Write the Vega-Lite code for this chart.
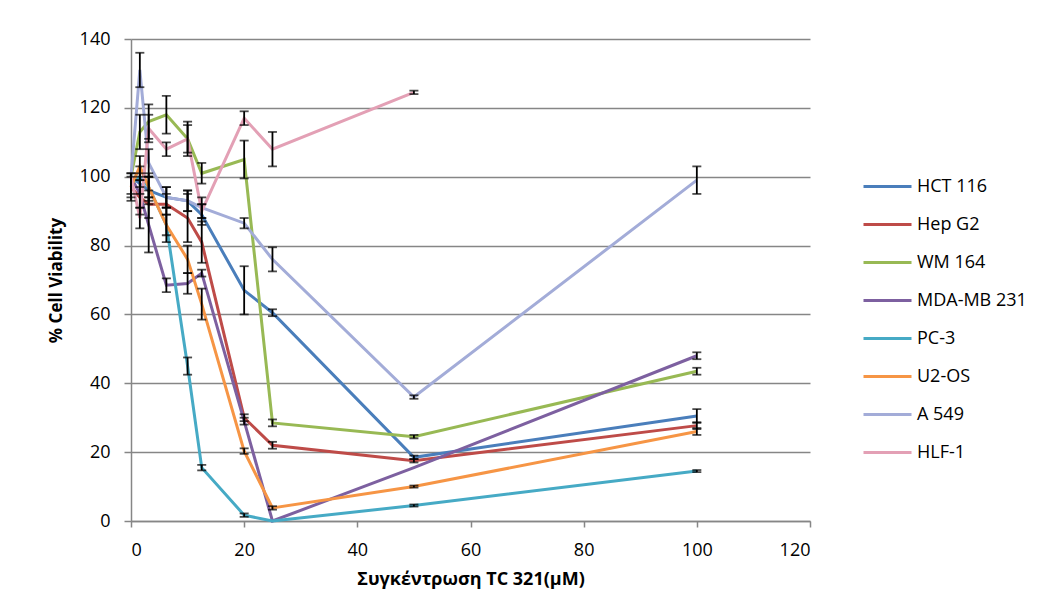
{
  "$schema": "https://vega.github.io/schema/vega-lite/v6.json",
  "autosize": {"type": "none"},
  "padding": {"left": 131, "top": 39, "right": 244, "bottom": 92},
  "width": 679,
  "height": 482,
  "background": "white",
  "config": {
    "font": "Open Sans",
    "view": {"stroke": null},
    "axis": {"labelFont": "Open Sans", "titleFont": "Open Sans", "labelColor": "#000", "titleColor": "#000", "domainColor": "#868686", "tickColor": "#868686", "gridColor": "#868686", "domainWidth": 1.5, "tickWidth": 1.5, "gridWidth": 1.3}
  },
  "data": {"values": [
    {"c": 0, "s": "HCT 116", "v": 100, "e": 0},
    {"c": 1.5625, "s": "HCT 116", "v": 98, "e": 3},
    {"c": 3.125, "s": "HCT 116", "v": 96, "e": 4},
    {"c": 6.25, "s": "HCT 116", "v": 94, "e": 3},
    {"c": 10, "s": "HCT 116", "v": 93, "e": 3},
    {"c": 12.5, "s": "HCT 116", "v": 89, "e": 3},
    {"c": 20, "s": "HCT 116", "v": 67, "e": 7},
    {"c": 25, "s": "HCT 116", "v": 60.5, "e": 1},
    {"c": 50, "s": "HCT 116", "v": 18.5, "e": 0.5},
    {"c": 100, "s": "HCT 116", "v": 30.5, "e": 2},
    {"c": 0, "s": "Hep G2", "v": 97, "e": 4},
    {"c": 1.5625, "s": "Hep G2", "v": 94, "e": 5},
    {"c": 3.125, "s": "Hep G2", "v": 92, "e": 4},
    {"c": 6.25, "s": "Hep G2", "v": 92, "e": 3},
    {"c": 10, "s": "Hep G2", "v": 88, "e": 7},
    {"c": 12.5, "s": "Hep G2", "v": 81, "e": 6},
    {"c": 20, "s": "Hep G2", "v": 30, "e": 1},
    {"c": 25, "s": "Hep G2", "v": 22, "e": 1},
    {"c": 50, "s": "Hep G2", "v": 17.5, "e": 0.5},
    {"c": 100, "s": "Hep G2", "v": 27.7, "e": 1},
    {"c": 0, "s": "WM 164", "v": 100, "e": 0},
    {"c": 1.5625, "s": "WM 164", "v": 113, "e": 5},
    {"c": 3.125, "s": "WM 164", "v": 116, "e": 5},
    {"c": 6.25, "s": "WM 164", "v": 118, "e": 5.5},
    {"c": 10, "s": "WM 164", "v": 111, "e": 5},
    {"c": 12.5, "s": "WM 164", "v": 101, "e": 3},
    {"c": 20, "s": "WM 164", "v": 105, "e": 5.5},
    {"c": 25, "s": "WM 164", "v": 28.5, "e": 1},
    {"c": 50, "s": "WM 164", "v": 24.5, "e": 0.5},
    {"c": 100, "s": "WM 164", "v": 43.5, "e": 1},
    {"c": 0, "s": "MDA-MB 231", "v": 100, "e": 0},
    {"c": 1.5625, "s": "MDA-MB 231", "v": 95, "e": 4},
    {"c": 3.125, "s": "MDA-MB 231", "v": 86, "e": 8},
    {"c": 6.25, "s": "MDA-MB 231", "v": 68.5, "e": 2},
    {"c": 10, "s": "MDA-MB 231", "v": 69, "e": 3},
    {"c": 12.5, "s": "MDA-MB 231", "v": 72, "e": 1},
    {"c": 20, "s": "MDA-MB 231", "v": 29, "e": 1},
    {"c": 25, "s": "MDA-MB 231", "v": 0, "e": 0},
    {"c": 50, "s": "MDA-MB 231", "v": 15.5, "e": 0},
    {"c": 100, "s": "MDA-MB 231", "v": 48, "e": 1},
    {"c": 0, "s": "PC-3", "v": 98, "e": 3},
    {"c": 1.5625, "s": "PC-3", "v": 100, "e": 3},
    {"c": 3.125, "s": "PC-3", "v": 97, "e": 4},
    {"c": 6.25, "s": "PC-3", "v": 86, "e": 5},
    {"c": 10, "s": "PC-3", "v": 45, "e": 2.5},
    {"c": 12.5, "s": "PC-3", "v": 15.5, "e": 0.8},
    {"c": 20, "s": "PC-3", "v": 1.7, "e": 0.5},
    {"c": 25, "s": "PC-3", "v": 0, "e": 0},
    {"c": 50, "s": "PC-3", "v": 4.5, "e": 0.3},
    {"c": 100, "s": "PC-3", "v": 14.5, "e": 0.3},
    {"c": 0, "s": "U2-OS", "v": 97, "e": 3},
    {"c": 1.5625, "s": "U2-OS", "v": 103, "e": 3},
    {"c": 3.125, "s": "U2-OS", "v": 97, "e": 3},
    {"c": 6.25, "s": "U2-OS", "v": 86, "e": 3},
    {"c": 10, "s": "U2-OS", "v": 76, "e": 4},
    {"c": 12.5, "s": "U2-OS", "v": 63, "e": 4.5},
    {"c": 20, "s": "U2-OS", "v": 20.3, "e": 0.8},
    {"c": 25, "s": "U2-OS", "v": 3.8, "e": 0.5},
    {"c": 50, "s": "U2-OS", "v": 10, "e": 0.3},
    {"c": 100, "s": "U2-OS", "v": 26, "e": 1},
    {"c": 0, "s": "A 549", "v": 100, "e": 0},
    {"c": 1.5625, "s": "A 549", "v": 131, "e": 5},
    {"c": 3.125, "s": "A 549", "v": 104, "e": 4},
    {"c": 6.25, "s": "A 549", "v": 94, "e": 3},
    {"c": 10, "s": "A 549", "v": 93, "e": 3},
    {"c": 12.5, "s": "A 549", "v": 91, "e": 3},
    {"c": 20, "s": "A 549", "v": 86.5, "e": 1.5},
    {"c": 25, "s": "A 549", "v": 76, "e": 3.5},
    {"c": 50, "s": "A 549", "v": 36, "e": 0.5},
    {"c": 100, "s": "A 549", "v": 99, "e": 4},
    {"c": 0, "s": "HLF-1", "v": 100, "e": 0},
    {"c": 1.5625, "s": "HLF-1", "v": 88, "e": 3},
    {"c": 3.125, "s": "HLF-1", "v": 114, "e": 4},
    {"c": 6.25, "s": "HLF-1", "v": 108, "e": 2},
    {"c": 10, "s": "HLF-1", "v": 111, "e": 4},
    {"c": 12.5, "s": "HLF-1", "v": 90, "e": 2},
    {"c": 20, "s": "HLF-1", "v": 117, "e": 2},
    {"c": 25, "s": "HLF-1", "v": 108, "e": 5},
    {"c": 50, "s": "HLF-1", "v": 124.5, "e": 0.5}
  ]},
  "layer": [
    {
      "mark": {"type": "line", "strokeWidth": 3, "clip": false},
      "encoding": {
        "x": {"field": "c", "type": "quantitative", "title": "Συγκέντρωση TC 321(μM)", "scale": {"domain": [0, 120], "nice": false},
          "axis": {"values": [0, 20, 40, 60, 80, 100, 120], "grid": false, "tickSize": 6, "labelFontSize": 18, "labelPadding": 14,
            "titleFontSize": 18, "titleFontWeight": "bold", "titlePadding": 11}},
        "y": {"field": "v", "type": "quantitative", "title": "% Cell Viability", "scale": {"domain": [0, 140], "nice": false},
          "axis": {"values": [0, 20, 40, 60, 80, 100, 120, 140], "grid": true, "tickSize": 7, "labelFontSize": 18, "labelPadding": 14,
            "titleFontSize": 17, "titleFontWeight": "bold", "titlePadding": 14}},
        "color": {"field": "s", "type": "nominal",
          "scale": {"domain": ["HCT 116", "Hep G2", "WM 164", "MDA-MB 231", "PC-3", "U2-OS", "A 549", "HLF-1"],
            "range": ["#4a7ebb", "#be4b48", "#98b954", "#7d60a0", "#46aac5", "#f69545", "#a3acd8", "#e3a0b5"]},
          "legend": {"title": null, "orient": "none", "legendX": 731, "legendY": 122, "symbolType": "stroke", "symbolSize": 2304, "symbolStrokeWidth": 3, "labelFontSize": 18, "labelOffset": 4, "rowPadding": 3, "labelColor": "#000"}}
      }
    },
    {
      "transform": [{"filter": "datum.e > 0"}],
      "mark": {"type": "errorbar", "color": "black", "ticks": {"size": 9, "thickness": 1.8, "color": "black"}, "rule": {"strokeWidth": 1.8, "color": "black"}},
      "encoding": {
        "x": {"field": "c", "type": "quantitative", "title": "Συγκέντρωση TC 321(μM)"},
        "y": {"field": "v", "type": "quantitative", "title": "% Cell Viability"},
        "yError": {"field": "e"}
      }
    }
  ]
}
